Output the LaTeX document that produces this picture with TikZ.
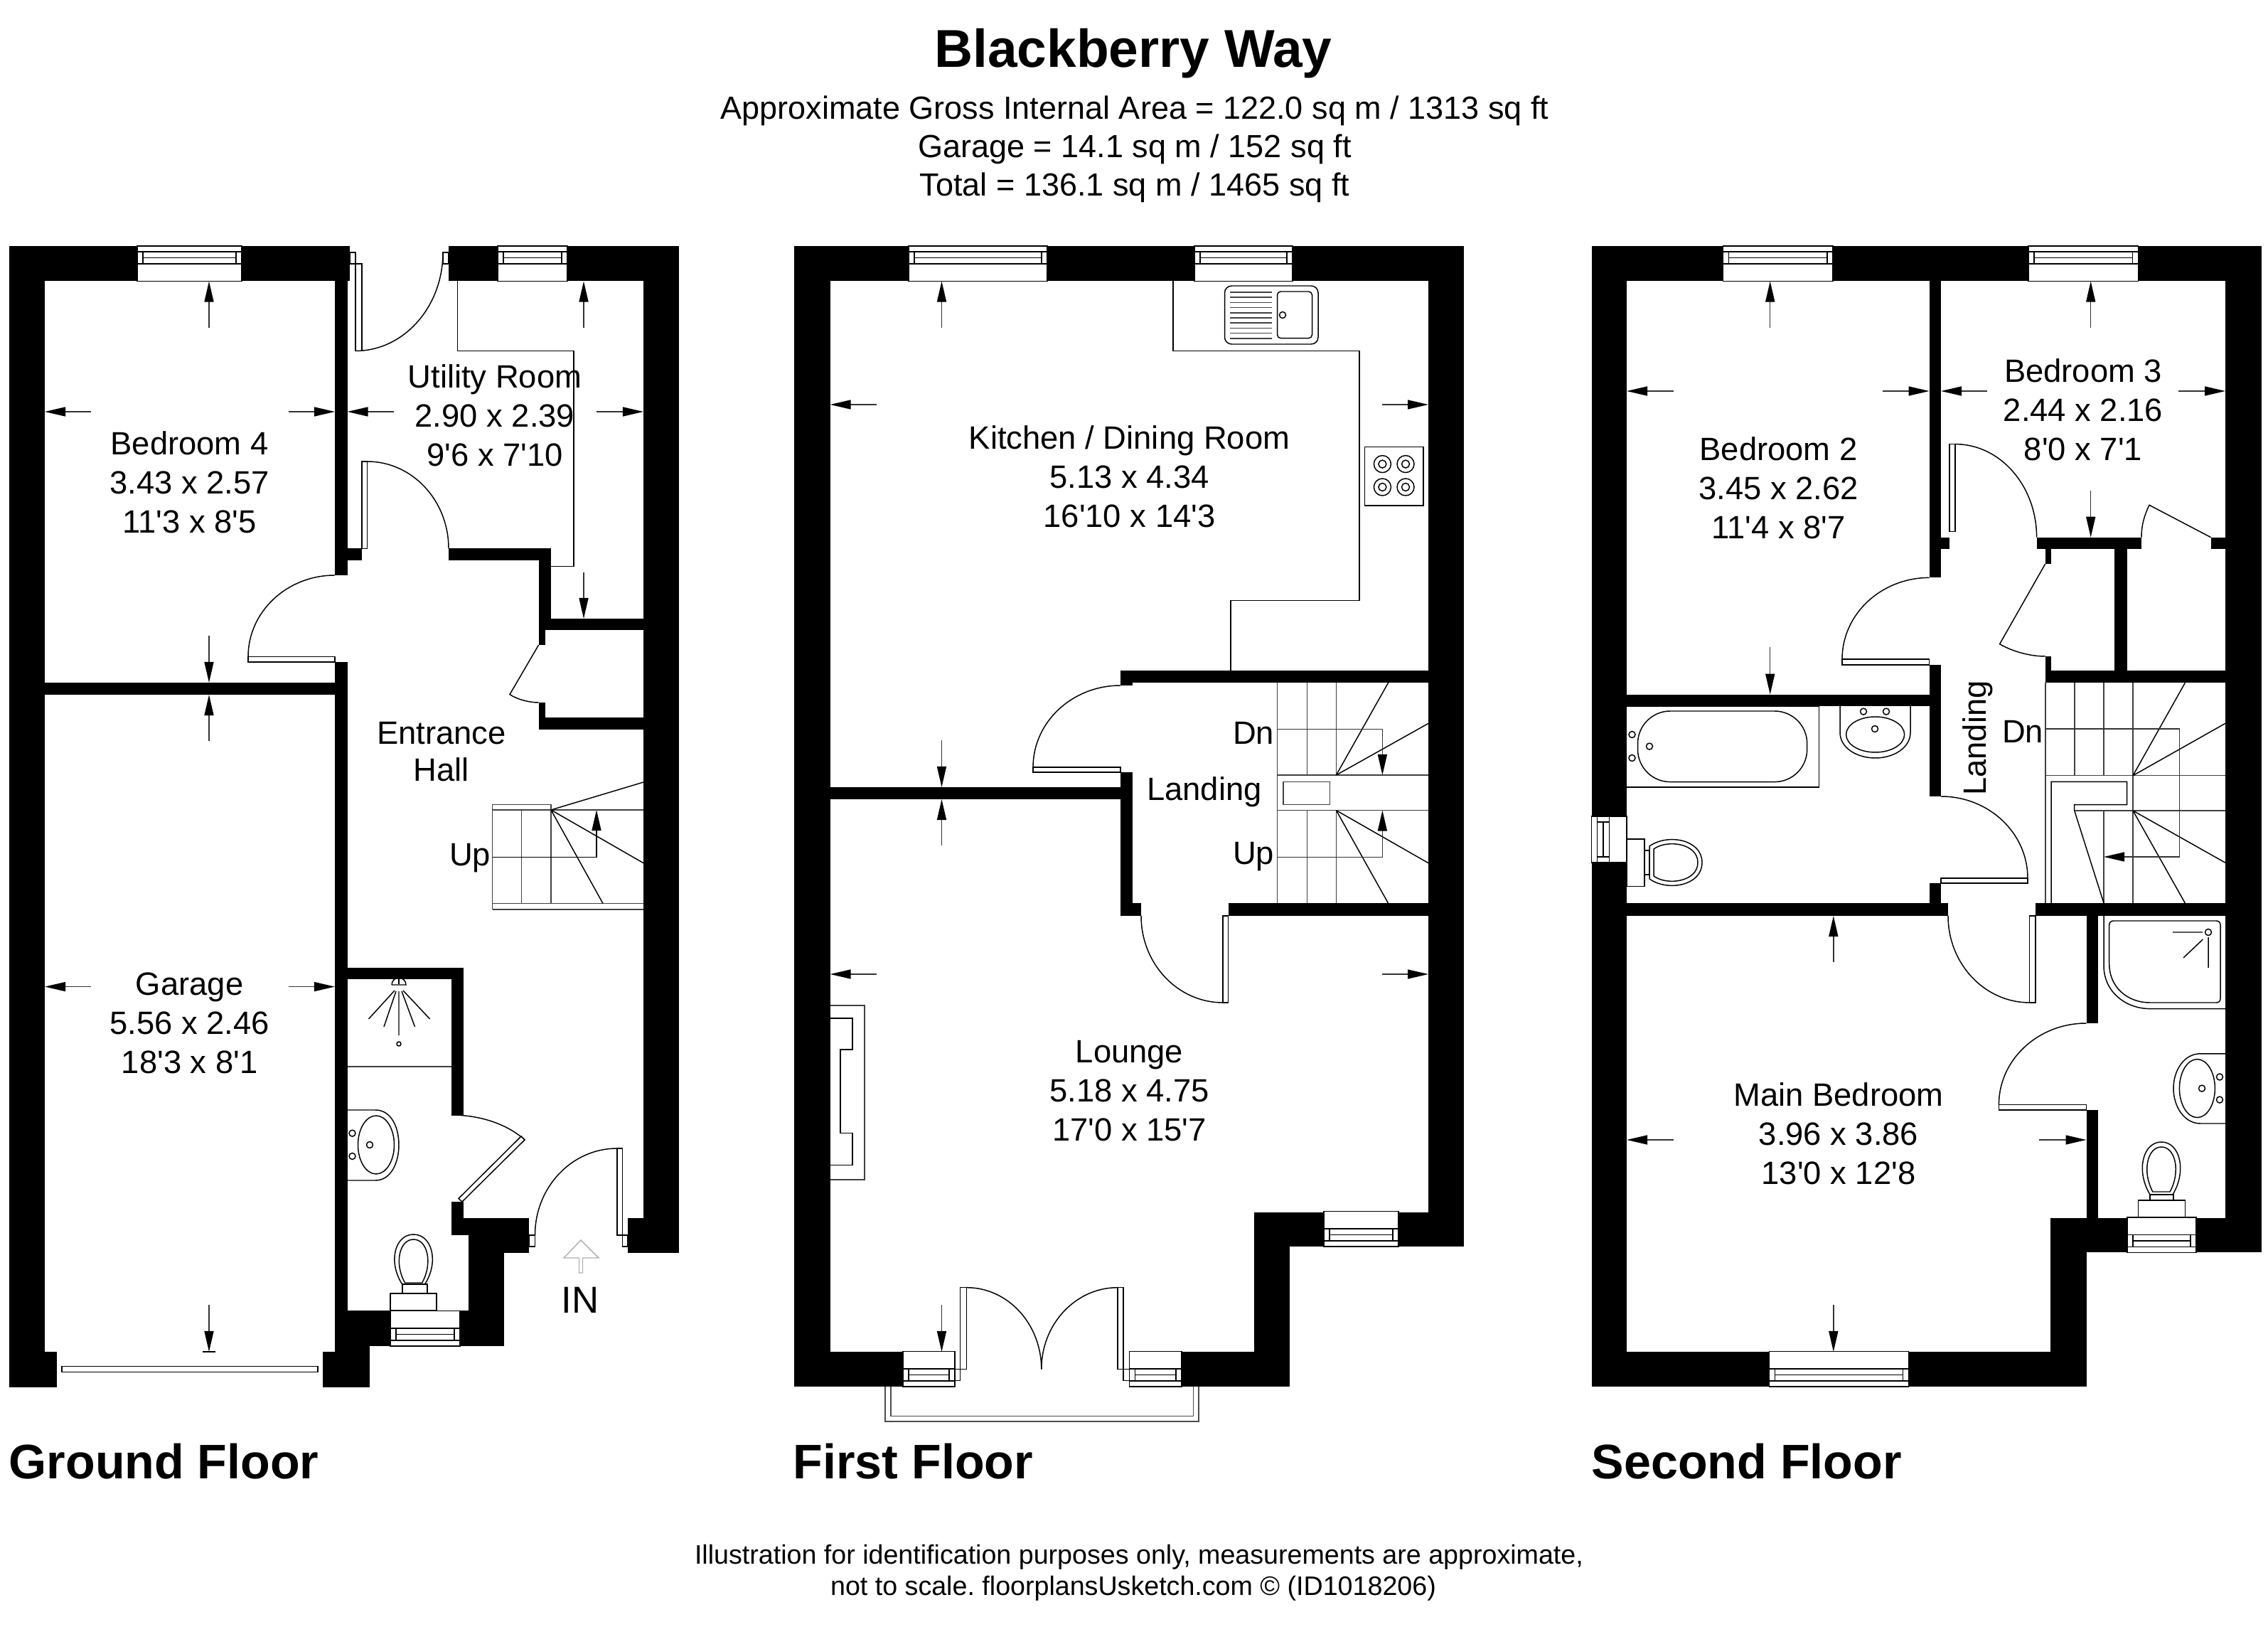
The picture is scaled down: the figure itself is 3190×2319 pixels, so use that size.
\documentclass[tikz,border=0pt]{standalone}
\usepackage{fontspec}
\setmainfont{Liberation Sans}[Ligatures=TeXOff]
\usetikzlibrary{arrows.meta}
\frenchspacing
\newcommand{\Wall}[4]{\fill[black] (#1,#2) rectangle (#3,#4);}
\newcommand{\Leaf}[4]{\filldraw[thin line,fill=white] (#1,#2) rectangle (#3,#4);}
\newcommand{\ArcH}[4]{%
 \pgfmathsetmacro{\arcCx}{#1+0.5523*(#3-#1)}%
 \pgfmathsetmacro{\arcCy}{#4-0.5523*(#4-#2)}%
 \draw[thin line] (#1,#2) .. controls (\arcCx,#2) and (#3,\arcCy) .. (#3,#4);}
% window: x1,x2, outer y, sign (+1 top wall, -1 bottom wall)
\newcommand{\WinH}[4]{%
 \pgfmathsetmacro{\winA}{#3+#4*8}\pgfmathsetmacro{\winB}{#3+#4*16.5}\pgfmathsetmacro{\winC}{#3+#4*25}\pgfmathsetmacro{\winD}{#3+#4*49.5}%
 \pgfmathsetmacro{\winL}{#1+8}\pgfmathsetmacro{\winR}{#2-8}%
 \filldraw[thin line,fill=white] (#1,#3) rectangle (#2,\winD);
 \draw[thin line] (#1,\winA) rectangle (#2,\winC);
 \draw[thin line] (\winL,\winA) -- (\winL,\winC) (\winR,\winA) -- (\winR,\winC) (\winL,\winB) -- (\winR,\winB);}
\newcommand{\EggV}[4]{%
 \pgfmathsetmacro{\egH}{#3-0.45*(#3-#2)}%
 \pgfmathsetmacro{\egA}{#1-0.55*#4}\pgfmathsetmacro{\egB}{#1-1.25*#4}\pgfmathsetmacro{\egC}{#1-0.9*#4}%
 \pgfmathsetmacro{\egD}{#1+0.55*#4}\pgfmathsetmacro{\egE}{#1+1.25*#4}\pgfmathsetmacro{\egF}{#1+0.9*#4}%
 \draw[thin line] (\egA,#3) .. controls (\egB,\egH) and (\egC,#2) .. (#1,#2) .. controls (\egF,#2) and (\egE,\egH) .. (\egD,#3) -- cycle;}
\newcommand{\Hole}[2]{\draw[thin line] (#1,#2) circle[radius=4.5];}
\newcommand{\DimA}[4]{\draw[dimline] (#1,#2) -- (#3,#4);}
\tikzset{
 thin line/.style={line width=0.42pt,draw=black},
 stair line/.style={line width=0.45pt,draw=black!75},
 dimline/.style={line width=0.42pt,draw=black!80,-{Triangle[length=0.29cm,width=0.13cm,black]}},
 roomtext/.style={font=\fontsize{12.9}{15.65}\selectfont,align=center,inner sep=0pt},
 floortitle/.style={font=\fontsize{19.4}{24}\selectfont\bfseries,anchor=west,inner sep=0pt},
 infotext/.style={font=\fontsize{12.8}{15.4}\selectfont,align=center,inner sep=0pt},
 foottext/.style={font=\fontsize{10.7}{12.8}\selectfont,inner sep=0pt},
}
\begin{document}
\begin{tikzpicture}[x=0.01cm,y=-0.01cm]
\useasboundingbox (0,0) rectangle (3190,2319);
\fill[white] (0,0) rectangle (3190,2319);
%% ---------- header / footer
\node[inner sep=0pt,font=\fontsize{21.3}{24}\selectfont\bfseries] (title) at (1594,75) {Blackberry Way};
\node[infotext] (area) at (1596,210) {Approximate Gross Internal Area = 122.0 sq m / 1313 sq ft\\Garage = 14.1 sq m / 152 sq ft\\Total = 136.1 sq m / 1465 sq ft};
\node[floortitle] (gf) at (12,2055) {Ground Floor};
\node[floortitle] (ff) at (1115,2055) {First Floor};
\node[floortitle] (sf) at (2238,2055) {Second Floor};
\node[foottext] (foot) at (1602,2190) {Illustration for identification purposes only, measurements are approximate,};
\node[foottext] (foot2) at (1594,2234) {not to scale. floorplansUsketch.com \textcopyright{} (ID1018206)};
%% ---------- GROUND FLOOR
\Wall{13}{346}{492}{395.5}
\Wall{631}{346}{955}{395.5}
\Wall{13}{346}{63}{1901}
\Wall{13}{1901}{80}{1951}
\Wall{471}{395}{488.5}{809}
\Wall{471}{771.5}{509}{788}
\Wall{471}{931}{488.5}{1843}
\Wall{13}{960}{488.5}{977}
\Wall{631}{771.5}{775}{788}
\Wall{757.6}{771.5}{775}{886}
\Wall{757.6}{870}{955}{886}
\Wall{757.6}{886}{766.5}{907}
\Wall{757.6}{988}{766.5}{1025.6}
\Wall{757.6}{1009}{955}{1025.6}
\Wall{905}{395}{955}{1712.5}
\Wall{882.6}{1712.5}{955}{1762}
\Wall{471}{1360.6}{652}{1377}
\Wall{634.6}{1377}{652}{1568}
\Wall{634.6}{1689.5}{652}{1737}
\Wall{634.6}{1712.5}{744}{1737}
\Wall{659}{1737}{744}{1762}
\Wall{659}{1737}{709}{1893}
\Wall{471}{1843}{709}{1893}
\Wall{454}{1901}{520}{1951}
\Wall{471}{1893}{520}{1901}
\WinH{193}{340}{346}{1}
\WinH{700}{798}{346}{1}
\WinH{549}{647}{1893}{-1}
% garage door
\Leaf{87}{1921.5}{447}{1929.5}
% utility back door
\Leaf{492}{355}{500}{371}
\Leaf{500}{371}{509}{493.5}
\Leaf{623}{355}{631}{371}
\ArcH{500}{493.5}{623}{355}
\draw[thin line] (643.5,395.5) -- (643.5,493.5) -- (807,493.5) -- (807,796.5) -- (775,796.5);
% door hall to utility
\Leaf{509}{649}{516.5}{771.5}
\ArcH{516.5}{649}{631}{771.5}
% bedroom 4 door
\ArcH{471}{809}{349}{923.6}
\Leaf{349}{923.6}{471}{931}
% cupboard door
\draw[thin line] (757.6,907) -- (717,976.6) .. controls (728,984) and (745,988) .. (757.6,988);
% stairs
\draw[stair line] (692.6,1279) -- (692.6,1131.6) -- (775,1131.6) -- (775,1270.5);
\draw[stair line] (692.6,1139) -- (905,1139);
\draw[stair line] (733.5,1139) -- (733.5,1270.5);
\draw[stair line] (692.6,1270.5) -- (905,1270.5) (692.6,1279) -- (905,1279);
\draw[thin line] (775,1139) -- (905,1100) (775,1139) -- (905,1213.7) (775,1139) -- (848,1270.5);
\draw[dimline,draw=black] (692.6,1205.6) -- (839,1205.6) -- (839,1139);
\node[roomtext] (up0) at (661,1207) {Up};
% shower room
\draw[stair line] (488.5,1500) -- (634.6,1500);
\draw[thin line] (561,1377) -- (561,1384);
\draw[thin line] (551,1385) -- (571,1385) arc[start angle=0,end angle=-180,radius=10] ;
\draw[thin line] (555,1393) -- (518.5,1433) (557,1394) -- (540,1444) (561,1394) -- (561,1456) (565,1394) -- (583.5,1444) (567,1393) -- (604.6,1433);
\draw[thin line] (561,1468) circle[radius=3];
\draw[thin line] (488.5,1561) -- (528,1561) .. controls (550,1561) and (561,1585) .. (561,1610) .. controls (561,1635) and (550,1660) .. (528,1660) -- (488.5,1660);
\draw[thin line] (529,1610) ellipse[x radius=25.5,y radius=41];
\Hole{495.5}{1593.7}\Hole{495.5}{1626}\Hole{520}{1610}
\draw[thin line] (634.6,1568) .. controls (670,1568) and (710,1578) .. (738,1603);
\filldraw[thin line,fill=white] (738,1603) -- (733,1598) -- (645,1685.5) -- (650,1690) -- cycle;
% WC
\EggV{581.6}{1736}{1806}{29}
\EggV{581.6}{1743}{1804}{22}
\draw[thin line] (566,1806) rectangle (601,1819);
\draw[thin line] (549,1819) rectangle (614,1843);
% entrance door
\Leaf{744}{1737}{752.5}{1753}
\Leaf{868}{1615}{875.6}{1737}
\Leaf{875.6}{1737}{882.6}{1753}
\ArcH{868}{1615}{752.5}{1737}
\filldraw[line width=0.42pt,draw=black!30,fill=white] (793,1769) -- (817,1744) -- (842,1769) -- (819.5,1769) -- (819.5,1790) -- (814.5,1790) -- (814.5,1769) -- cycle;
\node[inner sep=0pt,font=\fontsize{15}{18}\selectfont] (inlab) at (816,1828) {IN};
% arrows
\DimA{294}{461}{294}{395.5}
\DimA{128}{579}{63}{579}
\DimA{405.6}{579}{471}{579}
\DimA{294}{894.5}{294}{960}
\DimA{294}{1042}{294}{977}
\DimA{554}{579}{488.5}{579}
\DimA{839}{579}{905}{579}
\DimA{821}{461}{821}{395.5}
\DimA{821}{805}{821}{870}
\DimA{128}{1387.6}{63}{1387.6}
\DimA{405.6}{1387.6}{471}{1387.6}
\DimA{294}{1835}{294}{1901}
\draw[thin line] (285,1901) -- (303,1901);
\node[roomtext] (bed4) at (266.6,678) {Bedroom 4\\3.43 x 2.57\\11'3 x 8'5};
\node[roomtext] (util) at (696,584) {Utility Room\\2.90 x 2.39\\9'6 x 7'10};
\node[roomtext,font=\fontsize{12.9}{14.9}\selectfont] (hall) at (621,1057) {Entrance\\Hall};
\node[roomtext] (garage) at (266.6,1439) {Garage\\5.56 x 2.46\\18'3 x 8'1};
%% ---------- FIRST FLOOR
\Wall{1117}{346}{2059}{395.5}
\Wall{1117}{346}{1167.6}{1950}
\Wall{2009}{346}{2059}{1704.5}
\Wall{1117}{1901}{1270}{1950}
\Wall{1662}{1901}{1813.7}{1950}
\Wall{1764}{1704.5}{1813.7}{1950}
\Wall{1764}{1704.5}{2059}{1753}
\Wall{1117}{1107}{1593}{1124}
\Wall{1576}{1086}{1593}{1288}
\Wall{1576}{1270.5}{1605}{1288}
\Wall{1576}{943.5}{2059}{960}
\Wall{1576}{960}{1593}{964}
\Wall{1727.5}{1270.5}{2059}{1288}
\WinH{1278}{1473}{346}{1}
\WinH{1680}{1818}{346}{1}
\WinH{1862}{1967}{1753}{-1}
% balcony
\draw[thin line,draw=black!70] (1244.8,1950) -- (1244.8,1999) -- (1686,1999) -- (1686,1950);
\draw[thin line,draw=black!70] (1253,1950) -- (1253,1991.5) -- (1678.5,1991.5) -- (1678.5,1950);
\WinH{1270}{1343}{1950}{-1}
\WinH{1588.5}{1662}{1950}{-1}
\Leaf{1343}{1925.5}{1350.6}{1941.6}
\Leaf{1580}{1925.5}{1588.5}{1941.6}
\Leaf{1350.6}{1810.7}{1359.6}{1925.5}
\Leaf{1572}{1810.7}{1580}{1925.5}
\ArcH{1359.6}{1810.7}{1464.8}{1925.5}
\ArcH{1572}{1810.7}{1464.8}{1925.5}
% doors
\ArcH{1576}{964}{1453}{1079}
\Leaf{1453}{1079}{1576}{1086}
\Leaf{1720}{1288}{1727.5}{1410}
\ArcH{1720}{1410}{1605}{1288}
% kitchen units
\draw[thin line] (1650,395.5) -- (1650,493.5) -- (1912,493.5) -- (1912,844.5) -- (1731,844.5) -- (1731,943.5);
\draw[thin line,rounded corners=2.8pt] (1722.5,402) rectangle (1854,484);
\draw[thin line,rounded corners=1.4pt] (1796.5,410) rectangle (1845.5,475.6);
\draw[thin line] (1804,443) circle[radius=4.5];
\foreach \yy in {411,418.2,425.4,432.6,439.8,447,454.2,461.4,468.6,475.8}{\draw[stair line] (1730,\yy) -- (1789,\yy);}
\draw[thin line] (1919.5,628.7) rectangle (2002,711);
\foreach \bx in {1944.4,1977}{\foreach \by in {652.6,685}{\draw[thin line] (\bx,\by) circle[radius=12] (\bx,\by) circle[radius=5.5];}}
% fireplace
\draw[stair line] (1167.6,1414) -- (1216,1414) -- (1216,1659) -- (1167.6,1659);
\draw[thin line] (1167.6,1432) -- (1199,1432) -- (1199,1476) -- (1182,1476) -- (1182,1593.7) -- (1199,1593.7) -- (1199,1638.5) -- (1167.6,1638.5);
% stairs
\draw[stair line] (1796.4,960) -- (1796.4,1270.5) (1838.5,960) -- (1838.5,1090) (1838.5,1139.6) -- (1838.5,1270.5) (1879.4,960) -- (1879.4,1090) (1879.4,1139.6) -- (1879.4,1270.5);
\draw[stair line] (1796.4,1090) -- (2009,1090) (1796.4,1139.6) -- (2009,1139.6);
\draw[stair line] (1804.7,1099.6) rectangle (1870.4,1131.6);
\draw[thin line] (1879.4,1090) -- (1952.7,960) (1879.4,1090) -- (2009,1017.4) (1879.4,1139.6) -- (1952.7,1270.5) (1879.4,1139.6) -- (2009,1213.7);
\draw[dimline] (1796.4,1025.6) -- (1944.4,1025.6) -- (1944.4,1090);
\draw[dimline] (1796.4,1205.6) -- (1944.4,1205.6) -- (1944.4,1139.6);
% arrows
\DimA{1324.5}{461}{1324.5}{395.5}
\DimA{1233}{569}{1167.6}{569}
\DimA{1943.7}{569}{2009}{569}
\DimA{1324.5}{1041.4}{1324.5}{1107}
\DimA{1324.5}{1189}{1324.5}{1124}
\DimA{1233}{1370}{1167.6}{1370}
\DimA{1943.7}{1370}{2009}{1370}
\DimA{1324.5}{1835}{1324.5}{1901}
\node[roomtext] (kitchen) at (1588.5,670) {Kitchen / Dining Room\\5.13 x 4.34\\16'10 x 14'3};
\node[roomtext] (dn1) at (1763,1030.7) {Dn};
\node[roomtext] (land1) at (1694,1114) {Landing};
\node[roomtext] (up1) at (1763,1205) {Up};
\node[roomtext] (lounge) at (1588.5,1534) {Lounge\\5.18 x 4.75\\17'0 x 15'7};
%% ---------- SECOND FLOOR
\Wall{2238.5}{346}{3180.7}{395.5}
\Wall{2238.5}{346}{2288}{1950}
\Wall{3130}{346}{3180.7}{1712.5}
\Wall{2713.6}{395}{2730}{812.4}
\Wall{2713.6}{755.7}{2742}{772}
\Wall{2713.6}{935}{2730}{1120}
\Wall{2238.5}{976.6}{2730}{993}
\Wall{2713.6}{1242}{2730}{1288}
\Wall{2238.5}{1270.5}{2740}{1288}
\Wall{2863}{1270.5}{3180.7}{1288}
\Wall{2864.6}{755.7}{3012}{772}
\Wall{3109.6}{755.7}{3180.7}{772}
\Wall{2876.7}{772}{2885}{793}
\Wall{2876.7}{922.7}{2885}{943.3}
\Wall{2876.7}{943.3}{3180.7}{960.3}
\Wall{2974.3}{772}{2991.7}{943.3}
\Wall{2934.5}{1288}{2951}{1439}
\Wall{2934.5}{1561}{2951}{1712.5}
\Wall{2884.4}{1712.5}{3180.7}{1761.3}
\Wall{2884.4}{1712.5}{2934.5}{1950}
\Wall{2238.5}{1901}{2934.5}{1950}
\WinH{2423.5}{2578}{346}{1}
\WinH{2853}{3007.5}{346}{1}
\WinH{2488.5}{2684.6}{1950}{-1}
\WinH{2992}{3089}{1761.3}{-1}
% side window
\filldraw[thin line,fill=white] (2238.5,1148) rectangle (2288,1213);
\draw[thin line] (2246.5,1148) rectangle (2263.5,1213);
\draw[thin line] (2246.5,1156) -- (2263.5,1156) (2246.5,1205) -- (2263.5,1205) (2255,1156) -- (2255,1205);
% doors
\ArcH{2713.6}{812.4}{2591}{927}
\Leaf{2591}{927}{2713.6}{935}
\Leaf{2742}{624.6}{2750}{747.5}
\ArcH{2750}{624.6}{2864.6}{755.7}
\Leaf{2854.7}{1288}{2863}{1410}
\ArcH{2854.7}{1410}{2740}{1288}
\ArcH{2730}{1120}{2852}{1235}
\Leaf{2730}{1235}{2852}{1242}
\ArcH{2934.5}{1439}{2811.4}{1553.5}
\Leaf{2811.4}{1553.5}{2934.5}{1561}
\draw[thin line] (2876.7,793) -- (2812.6,905.7) .. controls (2830,916) and (2855,923) .. (2876.7,923);
\draw[thin line] (3012,755.7) .. controls (3012,738) and (3016,725) .. (3023,710.3) -- (3109.6,755.7);
% bathroom
\draw[thin line] (2288,993) -- (2558.4,993) -- (2558.4,1107) -- (2288,1107);
\draw[thin line,rounded corners=13pt] (2303.5,1000) rectangle (2541.7,1099.6);
\Hole{2295.5}{1033}\Hole{2295.5}{1066}\Hole{2320}{1049.6}
\draw[thin line] (2588,993) -- (2588,1030) .. controls (2588,1052) and (2612,1066) .. (2637.6,1066) .. controls (2663,1066) and (2687,1052) .. (2687,1030) -- (2687,993);
\draw[thin line] (2637.6,1033) ellipse[x radius=41,y radius=25];
\Hole{2621}{1000.6}\Hole{2653}{1000.6}\Hole{2637}{1025}
\draw[thin line] (2288,1180) rectangle (2313,1246.4);
\draw[thin line] (2313,1196) rectangle (2320,1230);
\draw[thin line] (2320,1190) .. controls (2345,1172) and (2394,1180) .. (2394,1213) .. controls (2394,1246) and (2345,1254) .. (2320,1236) -- cycle;
\draw[thin line] (2326,1194) .. controls (2345,1180) and (2388,1186) .. (2388,1213) .. controls (2388,1240) and (2345,1246) .. (2326,1232) -- cycle;
% stairs
\draw[stair line] (2876.7,960) -- (2876.7,1270.5) (2918,960) -- (2918,1090.7) (2959,960) -- (2959,1090.7) (3000,960) -- (3000,1270.5) (2959,1140) -- (2959,1270.5);
\draw[stair line] (2876.7,1090.7) -- (3130,1090.7) (2917.7,1140) -- (3130,1140);
\draw[thin line] (2885,1270.5) -- (2885,1099.3) -- (2991.7,1099.3) -- (2991.7,1131.7) -- (2917.7,1131.7) -- (2917.7,1140) -- (2959,1270);
\draw[thin line] (3000,1090.7) -- (3073.3,960.3) (3000,1090.7) -- (3130,1017.3) (3000,1140) -- (3073.3,1270) (3000,1140) -- (3130,1213.3);
\draw[dimline] (2876.7,1025) -- (3065.3,1025) -- (3065.3,1205) -- (2959,1205);
% ensuite
\draw[thin line] (2959,1288) -- (2959,1358) .. controls (2959,1395) and (2990,1418.6) .. (3024,1418.6) -- (3130,1418.6);
\draw[thin line] (2966.7,1301) .. controls (2966.7,1297) and (2969,1295) .. (2973,1295) -- (3117,1295) .. controls (3121,1295) and (3123,1297) .. (3123,1301) -- (3123,1404) .. controls (3123,1408) and (3121,1410) .. (3117,1410) -- (3024,1410) .. controls (2992,1410) and (2966.7,1388) .. (2966.7,1355.5) -- cycle;
\Hole{3106}{1311}
\draw[thin line] (3056,1311) -- (3098.4,1311) (3071,1347) -- (3098.4,1321) (3106,1318) -- (3106,1361);
\draw[thin line] (3130,1481.8) -- (3095,1481.8) .. controls (3072,1481.8) and (3057,1505) .. (3057,1530.6) .. controls (3057,1556) and (3072,1580) .. (3095,1580) -- (3130,1580);
\draw[thin line] (3090.4,1530.6) ellipse[x radius=25,y radius=41];
\Hole{3122}{1514.5}\Hole{3122}{1546.6}\Hole{3097}{1530.6}
\EggV{3040}{1606}{1680}{29}
\EggV{3040}{1613}{1676}{22}
\draw[thin line] (3024,1680) rectangle (3057,1688);
\draw[thin line] (3007.5,1688) rectangle (3073.7,1712.5);
% arrows
\DimA{2489.7}{461}{2489.7}{395.5}
\DimA{2354}{550}{2288}{550}
\DimA{2647.5}{550}{2713.6}{550}
\DimA{2489.7}{910}{2489.7}{976.6}
\DimA{2940.7}{461}{2940.7}{395.5}
\DimA{2795}{550}{2730}{550}
\DimA{3064.4}{550}{3130}{550}
\DimA{2940.7}{690}{2940.7}{755.7}
\DimA{2578.8}{1352.6}{2578.8}{1288}
\DimA{2578.8}{1835}{2578.8}{1901}
\DimA{2354}{1603}{2288}{1603}
\DimA{2868}{1603}{2934.5}{1603}
\node[roomtext] (bed2) at (2501.5,686) {Bedroom 2\\3.45 x 2.62\\11'4 x 8'7};
\node[roomtext] (bed3) at (2930,576) {Bedroom 3\\2.44 x 2.16\\8'0 x 7'1};
\node[roomtext] (main) at (2586,1594) {Main Bedroom\\3.96 x 3.86\\13'0 x 12'8};
\node[roomtext,rotate=90] (land2) at (2782,1038) {Landing};
\node[roomtext] (dn2) at (2845,1029) {Dn};
\end{tikzpicture}
\end{document}
